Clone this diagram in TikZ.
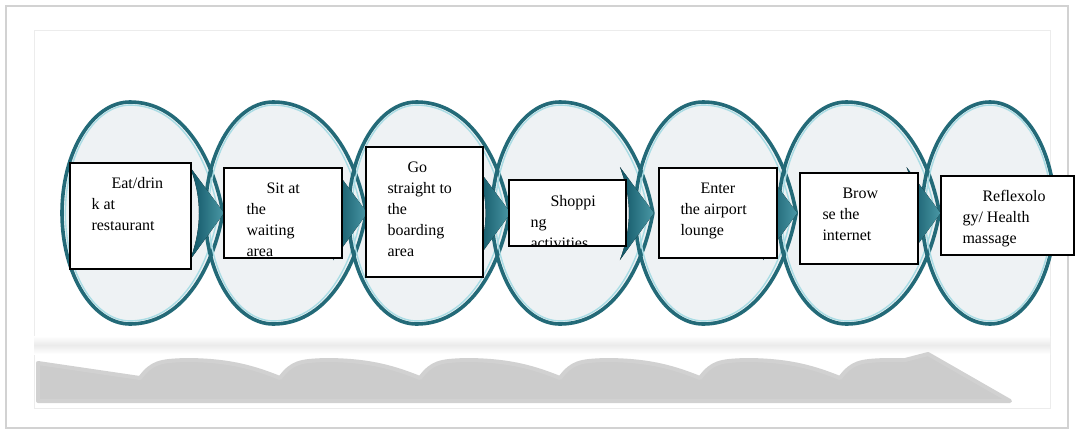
\documentclass[tikz,border=0pt]{standalone}
\usepackage{fontspec}
\setmainfont{Liberation Serif}
\usepackage{tikz}
\usetikzlibrary{arrows.meta,positioning}

\definecolor{ringteal}{HTML}{236A78}
\definecolor{ringglow}{HTML}{A9DCE4}
\definecolor{ringfill}{HTML}{EEF2F4}
\definecolor{wedgedark}{HTML}{0F5363}
\definecolor{wedgelight}{HTML}{4A98A6}

\begin{document}
\begin{tikzpicture}[
  x=1pt, y=-1pt,
  box/.style={draw,line width=1.5pt,fill=white,anchor=north west,inner sep=0pt},
  txt/.style={anchor=base west,inner sep=0pt,draw=none,fill=none,minimum width=0pt,minimum height=0pt,
    font=\fontsize{16}{21}\selectfont},
  ring/.style={draw=ringteal,line width=3.6pt},
  glow/.style={draw=ringglow,line width=1.4pt,xscale=0.95,yscale=0.972},
  wedge/.style={left color=wedgedark,right color=wedgelight,draw=none},
  ringpath/.style={insert path={(0,-111) .. controls (-37.5,-111) and (-68,-61) .. (-68,0)
    .. controls (-68,61) and (-37.5,111) .. (0,111) .. controls (50,111) and (82,60) .. (93,0)
    .. controls (82,-60) and (50,-111) .. (0,-111) -- cycle}},
  lastpath/.style={insert path={(0,-111) .. controls (-37.5,-111) and (-68,-61) .. (-68,0)
    .. controls (-68,61) and (-37.5,111) .. (0,111) .. controls (36,111) and (65,61) .. (65,0)
    .. controls (65,-61) and (36,-111) .. (0,-111) -- cycle}}
]
\useasboundingbox[fill=white] (0,0) rectangle (1075,432);
% frame
\draw[gray!35,line width=1.6pt] (6,6) rectangle (1068,428);
\draw[gray!15,line width=0.8pt] (34,30) rectangle (1050,408);
% shadow
\fill[top color=white,bottom color=white,middle color=gray!16] (34,336) rectangle (1050,354);
\draw[gray!36,line width=4pt,line join=round,fill=gray!40] (38,401) -- (38,363) -- (140,378)
  \foreach \x in {0,...,4} {.. controls (152+140*\x,362) and (160+140*\x,361) .. (185+140*\x,360)
    .. controls (230+140*\x,360) and (255+140*\x,368) .. (280+140*\x,378)}
  .. controls (852,362) and (860,361) .. (885,360) -- (905,360) -- (928,354) -- (1010,401) -- cycle;
% rings
\foreach \i in {0,...,5}
  \fill[ringfill,shift={(130+143.3*\i,213)}] [ringpath];
\fill[ringfill,shift={(990,213)}] [lastpath];
\foreach \i in {0,...,5} {
  \draw[shift={(130+143.3*\i,213)},ring] [ringpath];
  \draw[shift={(130+143.3*\i,213)},glow] [ringpath];
}
\draw[shift={(990,213)},ring] [lastpath];
\draw[shift={(990,213)},glow] [lastpath];
\foreach \i in {0,...,5}
  \fill[wedge,shift={(130+143.3*\i,213)}] (60,-46) -- (94,0) -- (60,47)
    .. controls (72,15) and (72,-15) .. cycle;
% boxes
\node[box,minimum width=121pt,minimum height=106pt,path picture={
  \node[txt] (eattxt) at ([shift={(21pt,-26pt)}]path picture bounding box.north west)
    {\vtop{\baselineskip=21pt\hbox{\hskip20pt Eat/drin}\hbox{k at}\hbox{restaurant}}};}] (eat) at (69,162) {};
\node[box,minimum width=118pt,minimum height=90pt,path picture={
  \node[txt] (sittxt) at ([shift={(22pt,-26pt)}]path picture bounding box.north west)
    {\vtop{\baselineskip=21pt\hbox{\hskip20pt Sit at}\hbox{the}\hbox{waiting}\hbox{area}}};}] (sit) at (223,167) {};
\node[box,minimum width=117pt,minimum height=130pt,path picture={
  \node[txt] (boardtxt) at ([shift={(21pt,-26pt)}]path picture bounding box.north west)
    {\vtop{\baselineskip=21pt\hbox{\hskip20pt Go}\hbox{straight to}\hbox{the}\hbox{boarding}\hbox{area}}};}] (board) at (365,146) {};
\node[box,minimum width=117pt,minimum height=66pt,path picture={
  \node[txt] (shoptxt) at ([shift={(21pt,-27pt)}]path picture bounding box.north west)
    {\vtop{\baselineskip=21pt\hbox{\hskip20pt Shoppi}\hbox{ng}\hbox{activities}}};}] (shop) at (508,179) {};
\node[box,minimum width=118pt,minimum height=90pt,path picture={
  \node[txt] (loungetxt) at ([shift={(21pt,-26pt)}]path picture bounding box.north west)
    {\vtop{\baselineskip=21pt\hbox{\hskip20pt Enter}\hbox{the airport}\hbox{lounge}}};}] (lounge) at (658,167) {};
\node[box,minimum width=118pt,minimum height=91pt,path picture={
  \node[txt] (webtxt) at ([shift={(22pt,-26pt)}]path picture bounding box.north west)
    {\vtop{\baselineskip=21pt\hbox{\hskip20pt Brow}\hbox{se the}\hbox{internet}}};}] (web) at (799,172) {};
\node[box,minimum width=133pt,minimum height=79pt,path picture={
  \node[txt] (spatxt) at ([shift={(21pt,-26pt)}]path picture bounding box.north west)
    {\vtop{\baselineskip=21pt\hbox{\hskip20pt Reflexolo}\hbox{gy/ Health}\hbox{massage}}};}] (spa) at (940,175) {};
\end{tikzpicture}
\end{document}
